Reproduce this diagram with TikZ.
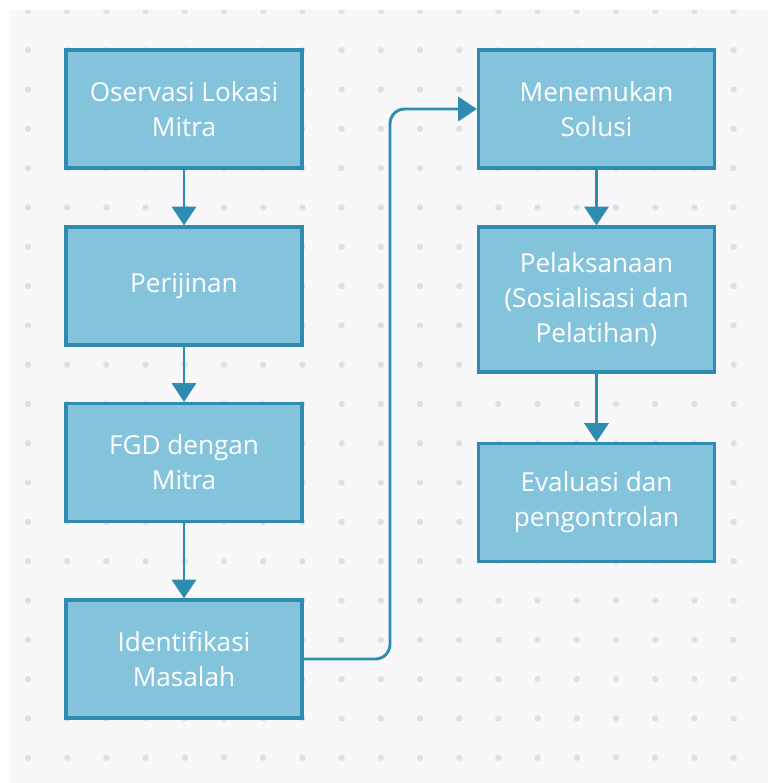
\documentclass[tikz,border=0pt]{standalone}
\usepackage{fontspec}
\setmainfont{Open Sans}
\usetikzlibrary{arrows.meta}
\definecolor{bgc}{HTML}{F8F8FA}
\definecolor{dotc}{HTML}{E0E0E4}
\definecolor{boxfill}{HTML}{84C3DC}
\definecolor{boxline}{HTML}{2E8CB0}
\tikzset{
  box/.style={draw=boxline, fill=boxfill, line width=2.4pt, minimum width=177pt,
    minimum height=88.5pt, align=center, text=white,
    font=\fontsize{19.6pt}{26.3pt}\selectfont, inner sep=0pt},
  conn/.style={draw=boxline, line width=2.2pt,
    -{Triangle[width=18pt,length=14pt]}},
}
\begin{document}
\begin{tikzpicture}[x=0.75pt,y=-0.75pt]
\useasboundingbox (0,0) rectangle (768,783);
\fill[white] (0,0) rectangle (768,783);
\fill[bgc] (9,10) rectangle (768,783);
\begin{scope}
\clip (9,10) rectangle (768,783);
\foreach \i in {0,...,18}{
  \foreach \j in {0,...,19}{
    \fill[dotc] ({28+39.2*\i},{11+39.3*\j}) circle (3.2);
  }
}
\end{scope}
\node[box] (b1) at (184,109) {Oservasi Lokasi\\Mitra};
\node[box] (b2) at (184,286) {Perijinan};
\node[box] (b3) at (184,462.5) {FGD dengan\\Mitra};
\node[box] (b4) at (184,659) {Identifikasi\\Masalah};
\node[box] (b5) at (596.5,109) {Menemukan\\Solusi};
\node[box, minimum height=108.75pt] (b6) at (596.5,299.5) {Pelaksanaan\\(Sosialisasi dan\\Pelatihan)};
\node[box] (b7) at (596.5,502.5) {Evaluasi dan\\pengontrolan};
\coordinate (m) at (390,109);
\draw[conn] (b1) -- (b2);
\draw[conn] (b2) -- (b3);
\draw[conn] (b3) -- (b4);
\draw[conn, rounded corners=11pt] (b4.east) -| (m) -- (b5.west);
\draw[conn] (b5) -- (b6);
\draw[conn] (b6) -- (b7);
\end{tikzpicture}
\end{document}
